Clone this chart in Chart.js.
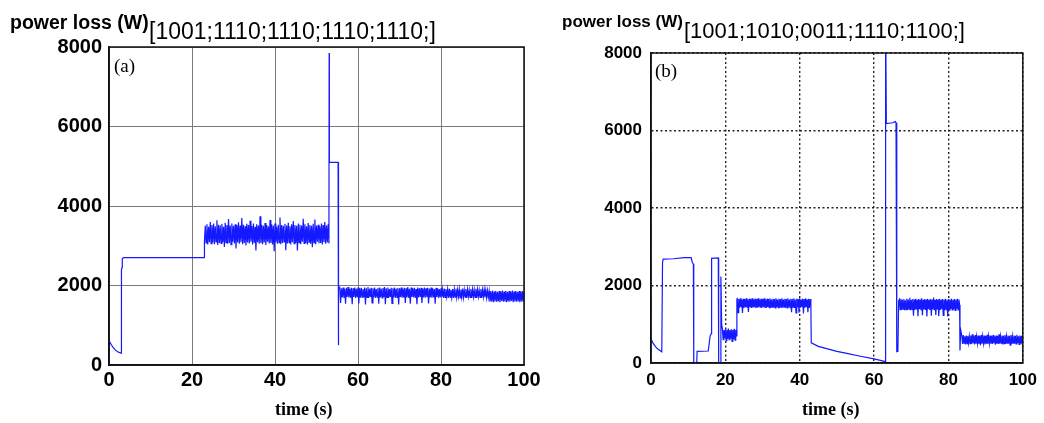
<!DOCTYPE html>
<html>
<head>
<meta charset="utf-8">
<script src="https://cdn.jsdelivr.net/npm/chart.js@4"></script>
<style>
  body { margin: 0; background: #fff; width: 1044px; height: 423px; position: relative; overflow: hidden; }
  canvas { position: absolute; top: 0; }
  #chartA { left: 0; }
  #chartB { left: 530px; }
  .txt { position: absolute; white-space: nowrap; color: #000; line-height: 1; }
  .ylab { font-family: "Liberation Sans", Arial, sans-serif; font-weight: bold; }
  .code { font-family: "Liberation Sans", Arial, sans-serif; }
  .tag { font-family: "Liberation Serif", "Times New Roman", serif; font-size: 19px; }
  .xlab { font-family: "Liberation Serif", "Times New Roman", serif; font-weight: bold; font-size: 18px; }
</style>
</head>
<body>
<canvas id="chartA" width="560" height="423"></canvas>
<canvas id="chartB" width="514" height="423"></canvas>

<div class="txt ylab" style="left:10px; top:13px; font-size:19.5px;">power loss (W)</div>
<div class="txt code" style="left:149px; top:20px; font-size:23px;">[1001;1110;1110;1110;1110;]</div>
<div class="txt ylab" style="left:562px; top:13px; font-size:17px;">power loss (W)</div>
<div class="txt code" style="left:684px; top:20px; font-size:22px;">[1001;1010;0011;1110;1100;]</div>
<div class="txt tag" style="left:114px; top:56px;">(a)</div>
<div class="txt tag" style="left:655px; top:61px;">(b)</div>
<div class="txt xlab" style="left:275px; top:400px;">time (s)</div>
<div class="txt xlab" style="left:802px; top:400px;">time (s)</div>

<script>
// axis ticks
const timeTicks = [0, 20, 40, 60, 80, 100]
const lossTicks = [0, 2000, 4000, 6000, 8000]

// noisy bands are read every 0.2 s
const bandStep = 0.2

// ---- (a) [1001;1110;1110;1110;1110;] ----
const aTime1 = [0, 0.05, 0.5, 1, 1.5, 2, 2.6, 2.9, 3.0, 3.15, 3.2, 3.5, 22.9, 23.0]
const aLoss1 = [0, 600, 520, 440, 380, 340, 310, 300, 2400, 2450, 2680, 2700, 2700, 3100]

const aBand1Start = 23.2
const aBand1 = [
  3500, 3070, 3540, 3030, 3480, 3090, 3600, 3050, 3520, 3080,
  3560, 3040, 3490, 3100, 3640, 3020, 3530, 3070, 3510, 3060,
  3550, 3090, 3480, 2970, 3580, 3080, 3520, 3050, 3670, 3070,
  3510, 3030, 3560, 3100, 3500, 3060, 3540, 2930, 3520, 3080,
  3590, 3050, 3510, 3090, 3700, 3040, 3530, 3070, 3490, 3010,
  3550, 3080, 3520, 3060, 3630, 3100, 3500, 3030, 3560, 3070,
  3480, 2880, 3540, 3090, 3510, 3050, 3740, 3070, 3530, 3040,
  3500, 3080, 3570, 3020, 3520, 3100, 3490, 3060, 3650, 3070,
  3540, 3030, 3510, 2860, 3560, 3090, 3480, 3050, 3530, 3080,
  3710, 3040, 3520, 3070, 3500, 3100, 3550, 2890, 3510, 3060,
  3580, 3080, 3490, 3030, 3540, 3090, 3620, 3050, 3520, 3070,
  3500, 2880, 3560, 3080, 3530, 3040, 3510, 3100, 3680, 3060,
  3540, 3070, 3490, 3030, 3570, 3090, 3520, 3050, 3500, 2960,
  3550, 3080, 3660, 3040, 3510, 3100, 3530, 3060, 3490, 3070,
  3560, 3030, 3520, 3090, 3600, 3050, 3510, 3080, 3540, 3060
]

const aTime2 = [53.0, 53.05, 53.1, 55.2, 55.25, 55.35]
const aLoss2 = [3300, 7850, 5100, 5100, 500, 1900]

const aBand2Start = 55.6
const aBand2 = [
  1950, 1560, 1930, 1700, 1950, 1690, 1920, 1540, 1940, 1710,
  1960, 1700, 1920, 1690, 1940, 1530, 1930, 1710, 1950, 1690,
  1920, 1700, 1950, 1550, 1930, 1690, 1940, 1710, 1910, 1700,
  1950, 1520, 1930, 1700, 1960, 1690, 1920, 1710, 1940, 1560,
  1930, 1700, 1950, 1690, 1910, 1710, 1940, 1540, 1950, 1700,
  1920, 1690, 1940, 1710, 1960, 1530, 1930, 1700, 1950, 1690,
  1910, 1710, 1940, 1550, 1930, 1700, 1950, 1690, 1920, 1700,
  1940, 1520, 1930, 1710, 1950, 1690, 1920, 1700, 1940, 1560,
  1930, 1700, 1960, 1690, 1920, 1540, 1950, 1710, 1930, 1700,
  1940, 1690, 1910, 1530, 1950, 1700, 1930, 1710, 1940, 1560,
  1920, 1700, 1950, 1690, 1930, 1710, 1940, 1550, 1920, 1700,
  1950, 1690, 1930, 1700, 1910, 1540, 1940, 1710, 1930, 1690,
  1910, 1700, 1930, 1710, 1900, 1690, 1920, 1700, 1910, 1720,
  1900, 1690, 1920, 1710, 1890, 1700, 1910, 1690, 1900, 1710,
  1920, 1700, 1890, 1720, 1910, 1690, 1900, 1710, 1920, 1700,
  1890, 1710, 1910, 1690, 1900, 1720, 1880, 1700, 1910, 1690,
  1900, 1710, 1890, 1700, 1920, 1690, 1900, 1720, 1880, 1700,
  1910, 1690, 1890, 1710, 1900, 1700, 1880, 1690, 1870, 1700,
  1860, 1590, 1850, 1600, 1870, 1580, 1850, 1600, 1860, 1590,
  1840, 1600, 1860, 1580, 1850, 1610, 1870, 1590, 1850, 1600,
  1860, 1580, 1840, 1600, 1860, 1590, 1850, 1610, 1870, 1580,
  1850, 1600, 1860, 1590, 1840, 1600, 1860, 1580, 1850, 1600,
  1860, 1590, 1850
]

// ---- (b) [1001;1010;0011;1110;1100;] ----
const bTime1 = [0, 0.5, 1, 1.5, 2, 2.6, 2.9, 3.1, 3.3, 6, 9, 10.8, 11.1, 11.4, 11.5, 12.3, 12.4, 15.4, 15.9, 16.2, 16.3, 18.1, 18.2, 18.6, 18.8, 19.0]
const bLoss1 = [620, 520, 450, 390, 350, 310, 290, 2600, 2680, 2690, 2720, 2720, 2600, 2550, 0, 0, 300, 310, 700, 760, 2700, 2710, 0, 0, 2230, 1000]

const bBand1Start = 19.2
const bBand1 = [880, 600, 850, 640, 870, 580, 860, 620, 890, 600, 850, 630, 870, 560, 860, 610, 880, 590, 860]

const bTime2 = [23.0, 23.1]
const bLoss2 = [700, 1650]

const bBand2Start = 23.2
const bBand2 = [
  1660, 1300, 1650, 1430, 1670, 1440, 1640, 1290, 1660, 1420,
  1650, 1440, 1670, 1430, 1640, 1320, 1660, 1440, 1650, 1420,
  1670, 1430, 1640, 1440, 1660, 1420, 1650, 1430, 1670, 1440,
  1640, 1430, 1660, 1420, 1650, 1440, 1670, 1430, 1640, 1420,
  1660, 1440, 1650, 1430, 1670, 1420, 1640, 1440, 1660, 1430,
  1650, 1420, 1670, 1440, 1640, 1430, 1660, 1420, 1650, 1440,
  1670, 1430, 1640, 1440, 1660, 1430, 1650, 1420, 1670, 1440,
  1640, 1430, 1660, 1310, 1650, 1440, 1670, 1420, 1640, 1290,
  1660, 1440, 1650, 1300, 1670, 1430, 1640, 1440, 1660, 1280,
  1650, 1430, 1670, 1440, 1640, 1310, 1660, 1420, 1650
]

const bTime3 = [43.0, 43.1, 45, 48, 50, 53, 56, 60, 62.8, 63.0, 63.1, 63.3, 65.0, 65.7, 65.9, 66.1, 66.4, 66.6]
const bLoss3 = [1450, 520, 430, 350, 300, 240, 180, 105, 40, 40, 9000, 6180, 6200, 6230, 6200, 290, 300, 1600]

const bBand3Start = 66.8
const bBand3 = [
  1640, 1380, 1660, 1370, 1630, 1390, 1650, 1360, 1620, 1380,
  1660, 1370, 1640, 1390, 1680, 1360, 1630, 1380, 1650, 1220,
  1640, 1370, 1660, 1380, 1630, 1210, 1650, 1390, 1640, 1360,
  1670, 1230, 1630, 1380, 1650, 1370, 1640, 1200, 1660, 1390,
  1630, 1370, 1650, 1220, 1640, 1380, 1690, 1360, 1630, 1240,
  1650, 1380, 1640, 1210, 1660, 1370, 1630, 1390, 1650, 1230,
  1640, 1360, 1660, 1380, 1630, 1200, 1650, 1370, 1640, 1390,
  1660, 1370, 1630, 1380, 1650, 1360, 1640, 1390, 1660, 1370,
  1640
]

const bTime4 = [83.0, 83.1, 83.3]
const bLoss4 = [1500, 320, 850]

const bBand4Start = 83.6
const bBand4 = [
  700, 490, 720, 510, 690, 480, 710, 500, 700, 520,
  690, 500, 710, 490, 740, 510, 700, 480, 720, 500,
  690, 510, 710, 490, 700, 460, 720, 500, 690, 510,
  710, 480, 700, 500, 730, 490, 690, 510, 710, 500,
  700, 490, 720, 510, 690, 470, 710, 500, 700, 490,
  740, 500, 690, 510, 710, 480, 700, 500, 720, 490,
  690, 510, 710, 500, 700, 460, 720, 490, 690, 510,
  710, 500, 700, 490, 730, 510, 690, 480, 710, 500,
  700, 490, 710
]

//pairs up a time list with its loss list
function pairUp(times, losses) {
  return times.map((t, i) => ({x: t, y: losses[i]}))
}

//noisy band: one reading per sample step
function band(start, losses) {
  return losses.map((v, i) => ({x: +(start + i * bandStep).toFixed(2), y: v}))
}

let aPoints = [].concat(
  pairUp(aTime1, aLoss1), band(aBand1Start, aBand1),
  pairUp(aTime2, aLoss2), band(aBand2Start, aBand2))

let bPoints = [].concat(
  pairUp(bTime1, bLoss1), band(bBand1Start, bBand1),
  pairUp(bTime2, bLoss2), band(bBand2Start, bBand2),
  pairUp(bTime3, bLoss3), band(bBand3Start, bBand3),
  pairUp(bTime4, bLoss4), band(bBand4Start, bBand4))

//box round the plot area (MATLAB style)
const framePlugin = {
  id: 'frame',
  afterDatasetsDraw(chart, args, opts) {
    const {ctx, chartArea: a} = chart
    ctx.save()
    ctx.strokeStyle = opts.color
    ctx.lineWidth = opts.width
    ctx.strokeRect(a.left, a.top, a.right - a.left, a.bottom - a.top)
    ctx.restore()
  }
}

function lossChart(id, points, look) {
  return new Chart(document.getElementById(id), {
    type: 'line',
    data: {
      datasets: [{
        data: points,
        borderColor: 'rgb(20, 25, 255)',
        borderWidth: 1.2,
        pointRadius: 0,
        tension: 0,
        fill: false
      }]
    },
    options: {
      responsive: false,
      animation: false,
      events: [],
      layout: {padding: look.padding},
      plugins: {
        legend: {display: false},
        tooltip: {enabled: false},
        frame: {color: '#111', width: 1.5}
      },
      scales: {
        x: {
          type: 'linear',
          min: timeTicks[0],
          max: timeTicks[timeTicks.length - 1],
          afterBuildTicks: s => { s.ticks = timeTicks.map(v => ({value: v})) },
          ticks: {
            color: '#000',
            padding: look.xPad,
            maxRotation: 0,
            font: {family: 'Liberation Sans', weight: 'bold', size: look.tickSize}
          },
          grid: {color: look.gridColor, lineWidth: look.gridWidth, drawTicks: false},
          border: {display: true, color: '#111', width: 1.5, dash: look.dash},
          afterFit: s => { s.height = look.xHeight }
        },
        y: {
          min: lossTicks[0],
          max: lossTicks[lossTicks.length - 1],
          afterBuildTicks: s => { s.ticks = lossTicks.map(v => ({value: v})) },
          ticks: {
            color: '#000',
            padding: look.yPad,
            callback: v => String(v),
            font: {family: 'Liberation Sans', weight: 'bold', size: look.tickSize}
          },
          grid: {color: look.gridColor, lineWidth: look.gridWidth, drawTicks: false},
          border: {display: true, color: '#111', width: 1.5, dash: look.dash},
          afterFit: s => { s.width = look.yWidth }
        }
      }
    },
    plugins: [framePlugin]
  })
}

//left panel: solid grey grid
lossChart('chartA', aPoints, {
  padding: {left: 0, right: 36, top: 47, bottom: 0},
  yWidth: 109, xHeight: 58,
  tickSize: 20, xPad: 3, yPad: 7,
  gridColor: '#7a7a7a', gridWidth: 1, dash: []
})

//right panel: dotted black grid
lossChart('chartB', bPoints, {
  padding: {left: 0, right: 18, top: 53, bottom: 0},
  yWidth: 121, xHeight: 60,
  tickSize: 17, xPad: 7, yPad: 9,
  gridColor: '#222', gridWidth: 1.4, dash: [2, 2.5]
})
</script>
</body>
</html>
